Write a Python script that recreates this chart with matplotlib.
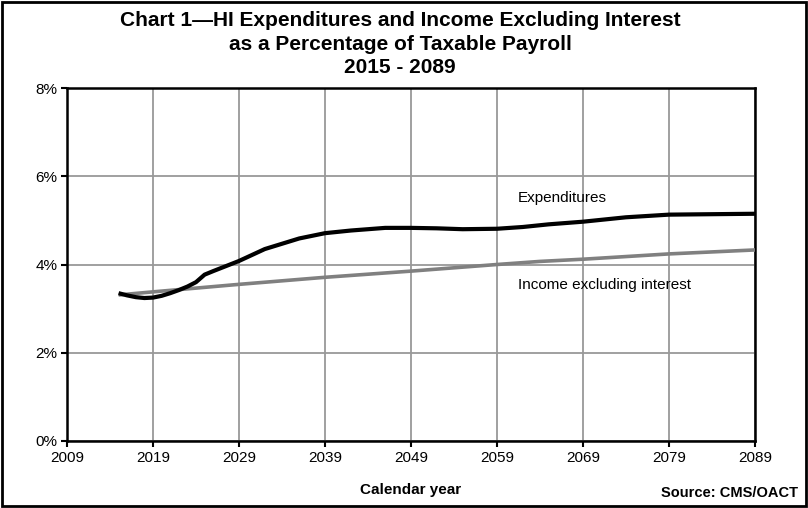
import numpy as np
import matplotlib.pyplot as plt
from matplotlib.patches import Rectangle

# data (percent of taxable payroll)
exp_years = [2015, 2016, 2017, 2018, 2019, 2020, 2021, 2022, 2023, 2024, 2025, 2026,
             2029, 2032, 2036, 2039, 2042, 2046, 2049, 2052, 2055, 2059, 2062,
             2065, 2069, 2074, 2079, 2084, 2089]
exp_vals = [3.35, 3.30, 3.26, 3.24, 3.25, 3.29, 3.35, 3.42, 3.50, 3.60, 3.77, 3.85,
            4.08, 4.35, 4.59, 4.71, 4.77, 4.83, 4.83, 4.82, 4.80, 4.81, 4.85,
            4.91, 4.97, 5.07, 5.13, 5.14, 5.15]

inc_years = [2015, 2019, 2029, 2039, 2049, 2059, 2064, 2069, 2079, 2089]
inc_vals = [3.31, 3.38, 3.55, 3.71, 3.85, 4.00, 4.07, 4.12, 4.24, 4.33]

xticks = list(range(2009, 2090, 10))
yticks = [0, 2, 4, 6, 8]

plt.rcParams['font.family'] = ['Liberation Sans', 'DejaVu Sans']

fig = plt.figure(figsize=(8.08, 5.08), dpi=100)
ax = fig.add_axes([67 / 808, 1 - 441 / 508, (755 - 67) / 808, (441 - 88) / 508])

ax.plot(inc_years, inc_vals, color='#808080', lw=2.6, solid_capstyle='butt', zorder=3)
ax.plot(exp_years, exp_vals, color='black', lw=3.0, solid_capstyle='butt', zorder=4)

ax.set_xlim(2009, 2089)
ax.set_ylim(0, 8)
ax.set_xticks(xticks)
ax.set_yticks(yticks)
ax.set_yticklabels([f'{v}%' for v in yticks])
ax.grid(True, color='#999999', lw=1.3)
ax.set_axisbelow(True)
for s in ax.spines.values():
    s.set_linewidth(1.8)
ax.tick_params(direction='out', length=4, width=1.5, labelsize=11, pad=3)

ax.set_xlabel('Calendar year', fontsize=11, fontweight='bold', labelpad=13)

fig.text(518 / 808, 1 - 198 / 508, 'Expenditures', fontsize=11, va='center')
fig.text(518 / 808, 1 - 285 / 508, 'Income excluding interest', fontsize=11, va='center')

fig.text(0.495, 1 - 44 / 508,
         'Chart 1\u2014HI Expenditures and Income Excluding Interest\n'
         'as a Percentage of Taxable Payroll\n2015 - 2089',
         ha='center', va='center', fontsize=15, fontweight='bold', linespacing=1.27)
fig.text(1 - 10 / 808, 1 - 493 / 508, 'Source: CMS/OACT', ha='right', va='center',
         fontsize=10.5, fontweight='bold')

fig.patches.append(Rectangle((0.002, 0.003), 0.996, 0.994, transform=fig.transFigure,
                             fill=False, edgecolor='black', lw=2))

fig.savefig('out.png', dpi=100)
